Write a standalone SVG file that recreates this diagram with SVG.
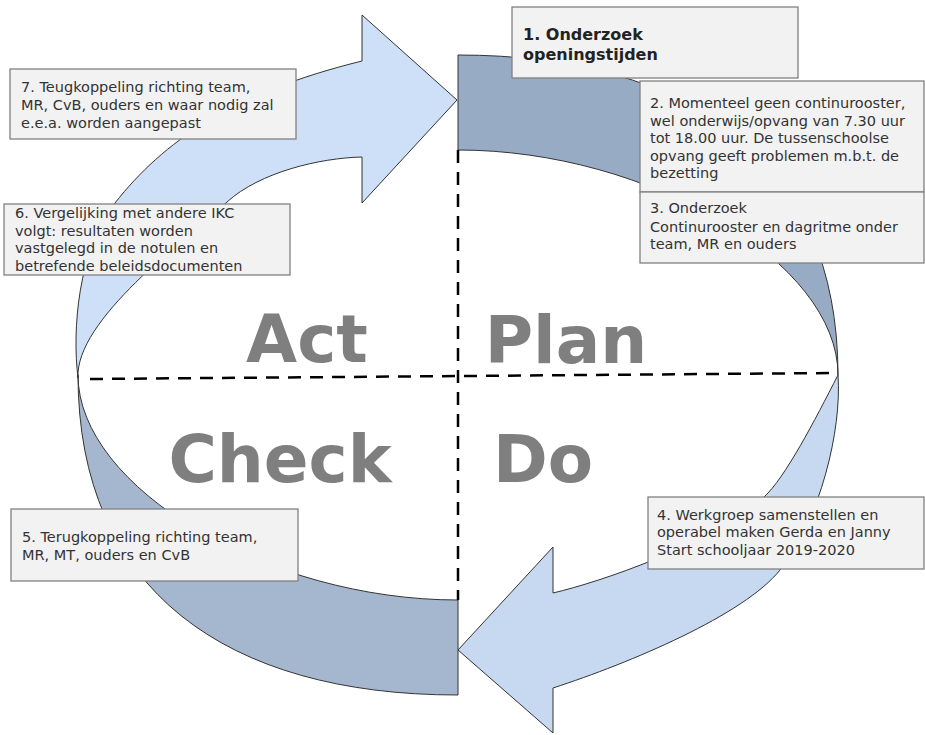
<svg xmlns="http://www.w3.org/2000/svg" width="925" height="735" viewBox="0 0 925 735">
<style>
.arrow{stroke:#333;stroke-width:1;stroke-linejoin:miter}
.box{fill:#f2f2f2;stroke:#808080;stroke-width:1.3}
.t{font-family:"DejaVu Sans","Liberation Sans",sans-serif;font-size:14.5px;fill:#333}
.tb{font-family:"DejaVu Sans","Liberation Sans",sans-serif;font-size:16px;font-weight:bold;fill:#222}
.big{font-family:"DejaVu Sans","Liberation Sans",sans-serif;font-size:66px;font-weight:bold;fill:#7f7f7f;text-anchor:middle}
.dash{stroke:#000;stroke-width:2.5;stroke-dasharray:13 9;fill:none}
</style>
<rect width="925" height="735" fill="#fff"/>
<g id="connectors">
<path id="arc-plan" class="arrow" fill="#98abc5" d="M 458,55 C 690,55 838,160 838,375 C 838,262 648,150 458,150 Z"/>
<path id="arc-do" class="arrow" fill="#c6d9f1" d="M 838,375 C 842,430 820,520 780,570 C 744,615 630,663 553,688 L 553,733 L 458,650 L 553,547 L 553,593 C 600,582 710,545 764,497 C 785,478 815,420 838,375 Z"/>
<path id="arc-check" class="arrow" fill="#a5b7cf" d="M 458,695 C 226,695 78,590 78,375 C 78,488 268,600 458,600 Z"/>
<path id="arc-act" class="arrow" fill="#cde0f7" d="M 78,378 C 72,330 78,250 115,203 C 163,142 232,93 362,61 L 362,15 L 457,100 L 362,203 L 362,157 C 320,158 260,172 227,202 C 185,240 75,320 78,378 Z"/>
<path class="dash" d="M 90,379 L 836,373"/>
<path class="dash" d="M 458,150 L 458,600"/>
</g>
<g id="quadrant-labels">
<text class="big" x="307" y="362">Act</text>
<text class="big" x="566" y="363">Plan</text>
<text class="big" x="280" y="482">Check</text>
<text class="big" x="543" y="482">Do</text>
</g>
<g id="node1">
<rect class="box" x="512" y="7" width="286" height="71"/>
<text class="tb" x="523" y="40">1. Onderzoek</text>
<text class="tb" x="523" y="60">openingstijden</text>
</g>
<g id="node2">
<rect class="box" x="640" y="81" width="284" height="111"/>
<text class="t" x="650" y="108">2. Momenteel geen continurooster,</text>
<text class="t" x="650" y="126">wel onderwijs/opvang van 7.30 uur</text>
<text class="t" x="650" y="143">tot 18.00 uur. De tussenschoolse</text>
<text class="t" x="650" y="161">opvang geeft problemen m.b.t. de</text>
<text class="t" x="650" y="178">bezetting</text>
</g>
<g id="node3">
<rect class="box" x="640" y="192" width="284" height="71"/>
<text class="t" x="650" y="213">3. Onderzoek</text>
<text class="t" x="650" y="232">Continurooster en dagritme onder</text>
<text class="t" x="650" y="249">team, MR en ouders</text>
</g>
<g id="node4">
<rect class="box" x="648" y="497" width="276" height="72"/>
<text class="t" x="657" y="520">4. Werkgroep samenstellen en</text>
<text class="t" x="657" y="537">operabel maken Gerda en Janny</text>
<text class="t" x="657" y="555">Start schooljaar 2019-2020</text>
</g>
<g id="node5">
<rect class="box" x="11" y="509" width="287" height="72"/>
<text class="t" x="22" y="542">5. Terugkoppeling richting team,</text>
<text class="t" x="22" y="560">MR, MT, ouders en CvB</text>
</g>
<g id="node6">
<rect class="box" x="4" y="204" width="286" height="71"/>
<text class="t" x="15" y="218">6. Vergelijking met andere IKC</text>
<text class="t" x="15" y="236">volgt: resultaten worden</text>
<text class="t" x="15" y="253">vastgelegd in de notulen en</text>
<text class="t" x="15" y="271">betrefende beleidsdocumenten</text>
</g>
<g id="node7">
<rect class="box" x="10" y="69" width="286" height="70"/>
<text class="t" x="21" y="92">7. Teugkoppeling richting team,</text>
<text class="t" x="21" y="110">MR, CvB, ouders en waar nodig zal</text>
<text class="t" x="21" y="128">e.e.a. worden aangepast</text>
</g>
</svg>
